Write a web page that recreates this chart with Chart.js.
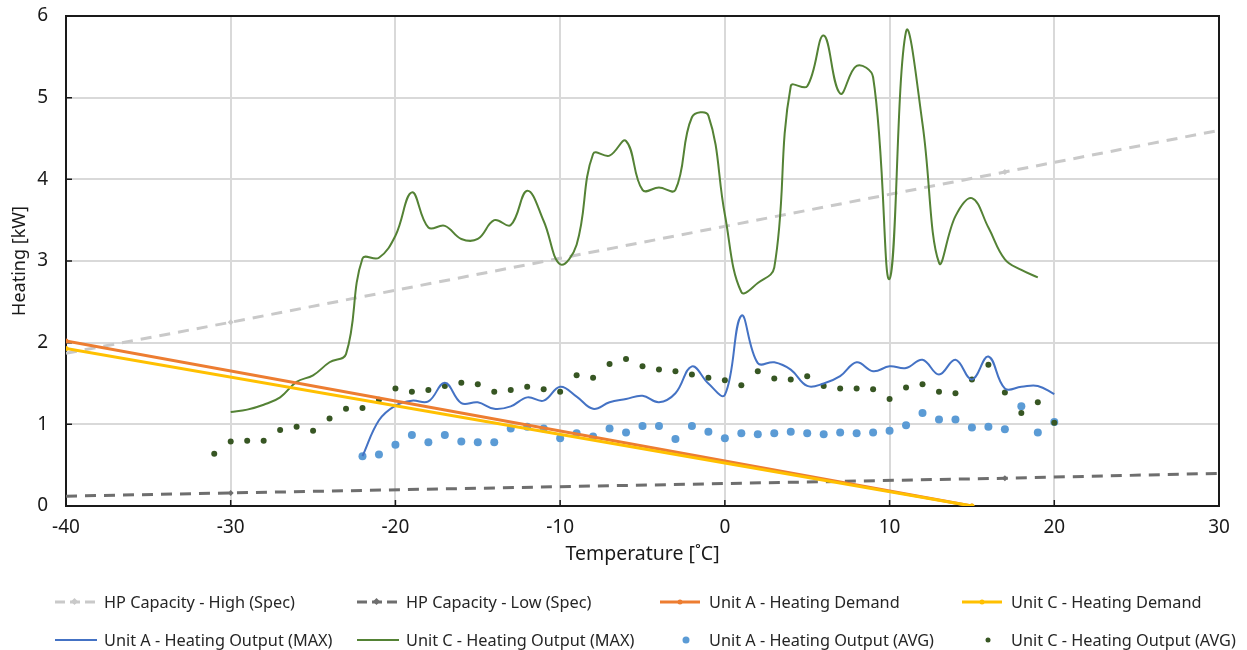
<!DOCTYPE html>
<html>
<head>
<meta charset="utf-8">
<script src="https://cdn.jsdelivr.net/npm/chart.js@4.4.1/dist/chart.umd.min.js"></script>
<style>
  html, body { margin: 0; padding: 0; background: #fff; }
  #wrap { position: relative; width: 1247px; height: 650px; font-family: "Noto Sans", sans-serif; }
  #chart { position: absolute; left: 0; top: 0; }
  .item { position: absolute; height: 20px; font-size: 16.3px; color: #262626; white-space: nowrap; }
  .item svg { position: absolute; left: 0; top: 0; }
  .item span { position: absolute; top: 0; line-height: 20px; }
</style>
</head>
<body>
<div id="wrap">
  <canvas id="chart" width="1247" height="650"></canvas>
  <div id="legend"></div>
</div>
<script>
// Outdoor temperature (°C) for each measured series
const tempsUnitAMax = [-22,-21,-20,-19,-18,-17,-16,-15,-14,-13,-12,-11,-10,-9,-8,-7,-6,-5,-4,-3,-2,-1,0,1,2,3,4,5,6,7,8,9,10,11,12,13,14,15,16,17,18,19,20];
const tempsUnitCMax = [-30,-29,-28,-27,-26,-25,-24,-23,-22,-21,-20,-19,-18,-17,-16,-15,-14,-13,-12,-11,-10,-9,-8,-7,-6,-5,-4,-3,-2,-1,0,1,2,3,4,5,6,7,8,9,10,11,12,13,14,15,16,17,18,19];
const tempsUnitAAvg = [-22,-21,-20,-19,-18,-17,-16,-15,-14,-13,-12,-11,-10,-9,-8,-7,-6,-5,-4,-3,-2,-1,0,1,2,3,4,5,6,7,8,9,10,11,12,13,14,15,16,17,18,19,20];
const tempsUnitCAvg = [-31,-30,-29,-28,-27,-26,-25,-24,-23,-22,-21,-20,-19,-18,-17,-16,-15,-14,-13,-12,-11,-10,-9,-8,-7,-6,-5,-4,-3,-2,-1,0,1,2,3,4,5,6,7,8,9,10,11,12,13,14,15,16,17,18,19,20];

// Heating output (kW)
const unitAMax = [0.61,1.05,1.23,1.29,1.28,1.51,1.26,1.27,1.19,1.22,1.33,1.29,1.46,1.34,1.19,1.27,1.31,1.35,1.27,1.38,1.71,1.50,1.36,2.33,1.75,1.76,1.67,1.47,1.50,1.59,1.76,1.65,1.71,1.69,1.79,1.61,1.79,1.55,1.83,1.44,1.46,1.47,1.37];
const unitCMax = [1.15,1.18,1.24,1.33,1.52,1.60,1.76,1.86,3.03,3.04,3.31,3.84,3.41,3.43,3.27,3.27,3.50,3.44,3.86,3.49,2.96,3.20,4.31,4.29,4.47,3.87,3.90,3.87,4.76,4.78,3.57,2.62,2.73,2.92,5.14,5.14,5.76,5.05,5.39,5.25,2.78,5.81,4.68,2.98,3.55,3.77,3.41,3.02,2.89,2.80];
const unitAAvg = [0.61,0.63,0.75,0.87,0.78,0.87,0.79,0.78,0.78,0.95,0.97,0.95,0.83,0.89,0.85,0.95,0.90,0.98,0.98,0.82,0.98,0.91,0.83,0.89,0.88,0.89,0.91,0.89,0.88,0.90,0.89,0.90,0.92,0.99,1.14,1.06,1.06,0.96,0.97,0.94,1.22,0.90,1.03];
const unitCAvg = [0.64,0.79,0.80,0.80,0.93,0.97,0.92,1.07,1.19,1.20,1.30,1.44,1.40,1.42,1.47,1.51,1.49,1.40,1.42,1.46,1.43,1.40,1.60,1.57,1.74,1.80,1.71,1.67,1.65,1.61,1.57,1.54,1.48,1.65,1.56,1.55,1.59,1.47,1.44,1.44,1.43,1.31,1.45,1.49,1.40,1.38,1.55,1.73,1.39,1.14,1.27,1.02];

// Heat pump spec capacity lines (kW)
const specTemps = [-40, -30, 17, 30];
const hpCapacityHigh = [1.87, 2.25, 4.09, 4.60];
const hpCapacityLow = [0.12, 0.16, 0.34, 0.40];

// Heating demand lines (kW)
const demandTemps = [-40, 15];
const unitADemand = [2.02, 0];
const unitCDemand = [1.93, 0];

// Axis ticks
const xTicks = [-40, -30, -20, -10, 0, 10, 20, 30];
const yTicks = [0, 1, 2, 3, 4, 5, 6];

const pts = (xs, ys) => xs.map((x, i) => ({ x, y: ys[i] }));

const FONT = '"Noto Sans", sans-serif';

const series = {
  cDemand: { label: 'Unit C - Heating Demand', data: pts(demandTemps, unitCDemand), showLine: true, borderColor: '#FFC000', backgroundColor: '#FFC000', borderWidth: 3, pointRadius: 2.5, pointBorderWidth: 0, order: 0 },
  aDemand: { label: 'Unit A - Heating Demand', data: pts(demandTemps, unitADemand), showLine: true, borderColor: '#ED7D31', backgroundColor: '#ED7D31', borderWidth: 3, pointRadius: 2.5, pointBorderWidth: 0, order: 1 },
  aMax: { label: 'Unit A - Heating Output (MAX)', data: pts(tempsUnitAMax, unitAMax), showLine: true, borderColor: '#4472C4', borderWidth: 2, tension: 0.4, pointRadius: 0, order: 2 },
  cAvg: { label: 'Unit C - Heating Output (AVG)', data: pts(tempsUnitCAvg, unitCAvg), showLine: false, backgroundColor: '#375623', borderWidth: 0, pointRadius: 3, order: 3 },
  aAvg: { label: 'Unit A - Heating Output (AVG)', data: pts(tempsUnitAAvg, unitAAvg), showLine: false, backgroundColor: '#5B9BD5', borderWidth: 0, pointRadius: 4, order: 4 },
  cMax: { label: 'Unit C - Heating Output (MAX)', data: pts(tempsUnitCMax, unitCMax), showLine: true, borderColor: '#548235', borderWidth: 2, tension: 0.4, pointRadius: 0, order: 5 },
  hpLow: { label: 'HP Capacity - Low (Spec)', data: pts(specTemps, hpCapacityLow), showLine: true, borderColor: '#6E6E6E', backgroundColor: '#6E6E6E', borderWidth: 3, borderDash: [11, 8], pointStyle: 'rectRot', pointRadius: [0, 3, 3, 0], pointBorderWidth: 0, order: 6 },
  hpHigh: { label: 'HP Capacity - High (Spec)', data: pts(specTemps, hpCapacityHigh), showLine: true, borderColor: '#C9C9C9', backgroundColor: '#C9C9C9', borderWidth: 3, borderDash: [11, 8], pointStyle: 'rectRot', pointRadius: [0, 3, 3, 0], pointBorderWidth: 0, order: 7 }
};

// Plot frame and inward tick marks
const framePlugin = {
  id: 'frame',
  beforeDatasetsDraw(chart) {
    const { ctx, chartArea: a, scales } = chart;
    ctx.save();
    ctx.strokeStyle = '#1a1a1a';
    ctx.lineWidth = 2;
    ctx.strokeRect(a.left, a.top, a.right - a.left, a.bottom - a.top);
    ctx.lineWidth = 1.5;
    ctx.beginPath();
    xTicks.forEach(v => {
      const px = scales.x.getPixelForValue(v);
      ctx.moveTo(px, a.bottom); ctx.lineTo(px, a.bottom - 6);
    });
    yTicks.forEach(v => {
      const py = scales.y.getPixelForValue(v);
      ctx.moveTo(a.left, py); ctx.lineTo(a.left + 6, py);
    });
    ctx.stroke();
    ctx.restore();
  }
};

new Chart(document.getElementById('chart'), {
  type: 'scatter',
  data: { datasets: Object.values(series) },
  options: {
    responsive: false,
    animation: false,
    layout: { padding: { left: 0, right: 28, top: 16, bottom: 85 } },
    plugins: { legend: { display: false }, tooltip: { enabled: false } },
    scales: {
      x: {
        type: 'linear', min: -40, max: 30,
        afterBuildTicks: s => { s.ticks = xTicks.map(v => ({ value: v })); },
        afterFit: s => { s.height = 59; },
        grid: { color: '#D9D9D9', lineWidth: 2, drawTicks: false },
        border: { display: false },
        ticks: { padding: 10, color: '#1a1a1a', font: { family: FONT, size: 19 }, maxRotation: 0 },
        title: { display: true, text: 'Temperature [˚C]', color: '#1a1a1a', font: { family: FONT, size: 19.5 }, padding: { top: 0, bottom: -1 } }
      },
      y: {
        type: 'linear', min: 0, max: 6,
        afterBuildTicks: s => { s.ticks = yTicks.map(v => ({ value: v })); },
        afterFit: s => { s.width = 66; s.paddingTop = 0; s.paddingBottom = 0; },
        grid: { color: '#D9D9D9', lineWidth: 2, drawTicks: false },
        border: { display: false },
        ticks: { padding: 18, color: '#1a1a1a', font: { family: FONT, size: 19 } },
        title: { display: true, text: 'Heating [kW]', color: '#1a1a1a', font: { family: FONT, size: 18 }, padding: { top: 9, bottom: 0 } }
      }
    }
  },
  plugins: [framePlugin]
});

// Legend entries laid out in two rows of four
const legendItems = [
  { s: series.hpHigh, kind: 'dash', x: 55, y: 602 },
  { s: series.hpLow, kind: 'dash', x: 357, y: 602 },
  { s: series.aDemand, kind: 'lineDot', x: 660, y: 602 },
  { s: series.cDemand, kind: 'lineDot', x: 962, y: 602 },
  { s: series.aMax, kind: 'line', x: 55, y: 640 },
  { s: series.cMax, kind: 'line', x: 357, y: 640 },
  { s: series.aAvg, kind: 'dot', x: 660, y: 640 },
  { s: series.cAvg, kind: 'dot', x: 962, y: 640 }
];
const legend = document.getElementById('legend');
legendItems.forEach(it => {
  const d = document.createElement('div');
  d.className = 'item';
  d.style.left = it.x + 'px';
  d.style.top = (it.y - 10) + 'px';
  const c = it.s.borderColor || it.s.backgroundColor;
  let svg = '';
  if (it.kind === 'dash') {
    svg = `<line x1="0" y1="10" x2="40" y2="10" stroke="${c}" stroke-width="3" stroke-dasharray="10 5"/><rect x="17" y="7" width="5" height="5" fill="${c}" transform="rotate(45 19.5 9.5)"/>`;
  } else if (it.kind === 'lineDot') {
    svg = `<line x1="0" y1="10" x2="40" y2="10" stroke="${c}" stroke-width="3"/><circle cx="20" cy="10" r="2.5" fill="${c}"/>`;
  } else if (it.kind === 'line') {
    svg = `<line x1="0" y1="10" x2="42" y2="10" stroke="${c}" stroke-width="2"/>`;
  } else {
    svg = `<circle cx="26" cy="10" r="${it.s.pointRadius - 0.5}" fill="${c}"/>`;
  }
  d.innerHTML = `<svg width="46" height="20">${svg}</svg><span style="left:49px">${it.s.label}</span>`;
  legend.appendChild(d);
});
</script>
</body>
</html>
